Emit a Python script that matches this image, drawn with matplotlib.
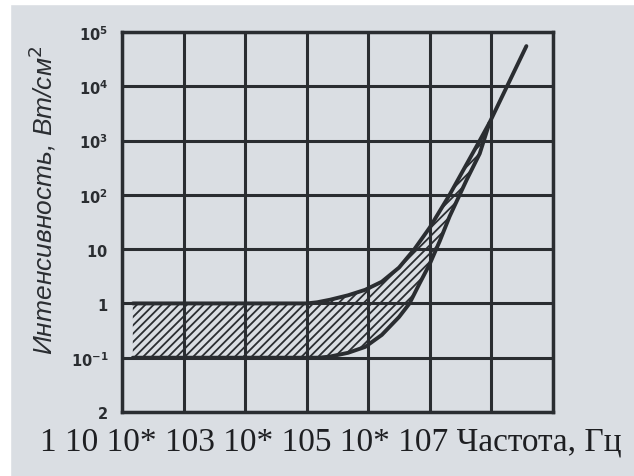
import numpy as np
import matplotlib
matplotlib.use('Agg')
import matplotlib.pyplot as plt
from matplotlib.patches import Rectangle

# upper / lower borders of the hatched band (frequency in Hz, intensity in W/cm2)
upper_freq = [1.5, 10, 100, 1000, 1480, 2400, 4680, 8900, 1.66e4, 3.16e4, 5.62e4,
              1e5, 2.09e5, 3.98e5, 6.46e5, 9.33e5, 3.7e6]
upper_int = [1, 1, 1, 1, 1.05, 1.17, 1.41, 1.78, 2.51, 4.57, 10,
             25.1, 100, 372, 1000, 2140, 55000]
lower_freq = [1.5, 10, 100, 1000, 1580, 2400, 4680, 8900, 1.66e4, 3.16e4, 4.68e4,
              6.76e4, 1e5, 1.45e5, 2.09e5, 3.98e5, 6.46e5, 9.33e5]
lower_int = [0.1, 0.1, 0.1, 0.1, 0.1, 0.105, 0.123, 0.158, 0.263, 0.562, 1.0,
             2.29, 5.37, 14.1, 39.8, 191, 575, 2140]

x_ticks = [1, 10, 1e2, 1e3, 1e4, 1e5, 1e6, 1e7]
y_ticks = [1e-2, 1e-1, 1, 10, 1e2, 1e3, 1e4, 1e5]
y_labels = [r'$\mathbf{2}$', r'$\mathbf{10^{-1}}$', r'$\mathbf{1}$', r'$\mathbf{10}$',
            r'$\mathbf{10^{2}}$', r'$\mathbf{10^{3}}$', r'$\mathbf{10^{4}}$', r'$\mathbf{10^{5}}$']
x_text = '1 10 10* 103 10* 105 10* 107 Частота, Гц'

bg = '#dadee3'
ink = '#2a2d31'
plt.rcParams['hatch.linewidth'] = 1.3

fig = plt.figure(figsize=(6.34, 4.77), dpi=100, facecolor=bg)
fig.patches.append(Rectangle((0, 0), 0.016, 1, transform=fig.transFigure, color='white', zorder=0))
fig.patches.append(Rectangle((0, 0.99), 1, 0.01, transform=fig.transFigure, color='white', zorder=0))

ax = fig.add_axes([0.1924, 0.1342, 0.6798, 0.7966])
ax.set_facecolor(bg)
ax.set_xscale('log')
ax.set_yscale('log')
ax.set_xlim(1, 1e7)
ax.set_ylim(1e-2, 1e5)

for v in x_ticks:
    ax.axvline(v, color=ink, lw=2.2, zorder=1)
for v in y_ticks:
    ax.axhline(v, color=ink, lw=2.2, zorder=1)
for s in ax.spines.values():
    s.set_linewidth(2.5)
    s.set_color(ink)

poly_x = np.concatenate([upper_freq, lower_freq[::-1]])
poly_y = np.concatenate([upper_int, lower_int[::-1]])
ax.fill(poly_x, poly_y, facecolor='none', edgecolor=ink, hatch='////', linewidth=0, zorder=2)
ax.plot(upper_freq, upper_int, color=ink, lw=2.8, zorder=3, solid_capstyle='round', solid_joinstyle='round')
ax.plot(lower_freq, lower_int, color=ink, lw=2.8, zorder=3, solid_capstyle='round', solid_joinstyle='round')

ax.set_xticks(x_ticks)
ax.set_xticklabels([])
ax.set_yticks(y_ticks)
ax.set_yticklabels(y_labels, fontsize=10.5, color=ink)
ax.minorticks_off()
ax.tick_params(length=0, pad=10)

fig.text(0.066, 0.58, 'Интенсивность, Вт/см$^2$', rotation=90, fontsize=19, style='italic',
         family='Liberation Sans', ha='center', va='center', color=ink)
fig.text(0.063, 0.073, x_text, fontsize=24, family='Liberation Serif', ha='left', va='center',
         color='#1e1f22')

fig.savefig('out.png', dpi=100, facecolor=fig.get_facecolor())
